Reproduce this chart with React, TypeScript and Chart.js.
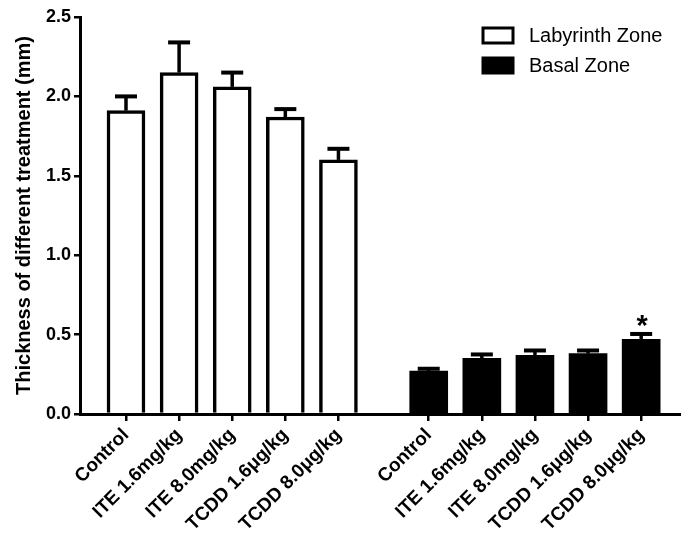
import React, { useEffect, useRef } from "react";
import { Chart, registerables } from "chart.js";

Chart.register(...registerables);

const categories = ["Control", "ITE 1.6mg/kg", "ITE 8.0mg/kg", "TCDD 1.6μg/kg", "TCDD 8.0μg/kg"];
const labyrinthSlots = [0, 1, 2, 3, 4];
const basalSlots = [5.7, 6.7, 7.7, 8.7, 9.7];
const labyrinthMeans = [1.91, 2.15, 2.06, 1.87, 1.6];
const labyrinthErrors = [0.09, 0.19, 0.09, 0.05, 0.07];
const basalMeans = [0.27, 0.35, 0.37, 0.38, 0.47];
const basalErrors = [0.015, 0.025, 0.03, 0.02, 0.034];
const basalMarks = ["", "", "", "", "*"];
const yTicks = [0, 0.5, 1.0, 1.5, 2.0, 2.5];
const seriesNames = ["Labyrinth Zone", "Basal Zone"];

const FONT = "'Liberation Sans', Arial, Helvetica, sans-serif";

const errorBarPlugin = {
  id: "errorBars",
  afterDatasetsDraw(chart: any) {
    const ctx = chart.ctx;
    const yScale = chart.scales.y;
    chart.data.datasets.forEach((ds: any, di: number) => {
      const meta = chart.getDatasetMeta(di);
      meta.data.forEach((el: any, i: number) => {
        const v = ds.data[i].y;
        const e = ds.errors[i];
        const yTop = el.y;
        const yErr = yScale.getPixelForValue(v + e);
        ctx.save();
        ctx.strokeStyle = "#000";
        ctx.lineWidth = 3.5;
        ctx.lineCap = "butt";
        ctx.beginPath();
        ctx.moveTo(el.x, yTop);
        ctx.lineTo(el.x, yErr);
        ctx.stroke();
        ctx.lineWidth = 4;
        ctx.beginPath();
        ctx.moveTo(el.x - 11, yErr);
        ctx.lineTo(el.x + 11, yErr);
        ctx.stroke();
        const mark = ds.marks ? ds.marks[i] : "";
        if (mark) {
          ctx.fillStyle = "#000";
          ctx.textAlign = "center";
          ctx.textBaseline = "alphabetic";
          ctx.font = `bold 100px ${FONT}`;
          const m = ctx.measureText(mark);
          const h100 = m.actualBoundingBoxAscent + m.actualBoundingBoxDescent;
          const size = h100 > 0 ? (11 / h100) * 100 : 30;
          ctx.font = `bold ${size}px ${FONT}`;
          const m2 = ctx.measureText(mark);
          const bottomTarget = yErr - 7;
          const baseline = bottomTarget - m2.actualBoundingBoxDescent;
          ctx.fillText(mark, el.x + 1, baseline);
        }
        ctx.restore();
      });
    });
  },
};

const legendPlugin = {
  id: "customLegend",
  afterDraw(chart: any) {
    const ctx = chart.ctx;
    ctx.save();
    const items = [
      { name: seriesNames[0], fill: "#fff" },
      { name: seriesNames[1], fill: "#000" },
    ];
    items.forEach((it, i) => {
      const y = 28 + i * 30;
      ctx.fillStyle = it.fill;
      ctx.fillRect(483, y, 30, 15);
      ctx.strokeStyle = "#000";
      ctx.lineWidth = 3;
      ctx.strokeRect(483, y, 30, 15);
      ctx.fillStyle = "#000";
      ctx.font = `20px ${FONT}`;
      ctx.textAlign = "left";
      ctx.textBaseline = "middle";
      ctx.fillText(it.name, 529, y + 8);
    });
    ctx.restore();
  },
};

export default function App() {
  const ref = useRef<HTMLCanvasElement | null>(null);
  useEffect(() => {
    if (!ref.current) return;
    const allSlots = [...labyrinthSlots, ...basalSlots];
    const allLabels = [...categories, ...categories];
    const chart = new Chart(ref.current, {
      type: "bar",
      data: {
        datasets: [
          {
            label: seriesNames[0],
            data: labyrinthSlots.map((x, i) => ({ x, y: labyrinthMeans[i] })),
            errors: labyrinthErrors,
            backgroundColor: "#fff",
            borderColor: "#000",
            borderWidth: 3.5,
            borderSkipped: "start",
            barThickness: 38,
            grouped: false,
          } as any,
          {
            label: seriesNames[1],
            data: basalSlots.map((x, i) => ({ x, y: basalMeans[i] })),
            errors: basalErrors,
            marks: basalMarks,
            backgroundColor: "#000",
            borderColor: "#000",
            borderWidth: 0,
            barThickness: 38,
            grouped: false,
          } as any,
        ],
      },
      options: {
        responsive: false,
        animation: false,
        layout: { padding: { top: 17, right: 0, left: 0, bottom: 0 } },
        plugins: { legend: { display: false }, tooltip: { enabled: false } },
        scales: {
          x: {
            type: "linear",
            offset: false,
            min: -0.866,
            max: 10.45,
            afterBuildTicks: (scale: any) => {
              scale.ticks = allSlots.map((v) => ({ value: v }));
            },
            afterFit: (scale: any) => {
              scale.height = 129;
            },
            ticks: {
              autoSkip: false,
              maxRotation: 45,
              minRotation: 45,
              color: "#000",
              padding: 3,
              font: { family: FONT, size: 19, weight: "bold" },
              callback: (_v: any, i: number) => allLabels[i],
            },
            grid: { offset: false, drawOnChartArea: false, drawTicks: true, tickLength: 7, color: "#000", lineWidth: 2.5 },
            border: { display: true, color: "#000", width: 3 },
          },
          y: {
            min: 0,
            max: 2.5,
            afterBuildTicks: (scale: any) => {
              scale.ticks = yTicks.map((v) => ({ value: v }));
            },
            afterFit: (scale: any) => {
              scale.width = 80;
            },
            ticks: {
              color: "#000",
              padding: 3,
              font: { family: FONT, size: 18, weight: "bold" },
              callback: (v: any) => Number(v).toFixed(1),
            },
            grid: { drawOnChartArea: false, drawTicks: true, tickLength: 6, color: "#000", lineWidth: 2.5 },
            border: { display: true, color: "#000", width: 3 },
            title: {
              display: true,
              text: "Thickness of different treatment (mm)",
              color: "#000",
              font: { family: FONT, size: 20, weight: "bold" },
              padding: { top: 12, bottom: 0 },
            },
          },
        },
      } as any,
      plugins: [errorBarPlugin, legendPlugin],
    });
    return () => chart.destroy();
  }, []);
  return (
    <div style={{ position: "absolute", left: 0, top: 0, width: 681, height: 543, background: "#fff" }}>
      <canvas ref={ref} width={681} height={543} style={{ display: "block" }} />
    </div>
  );
}
